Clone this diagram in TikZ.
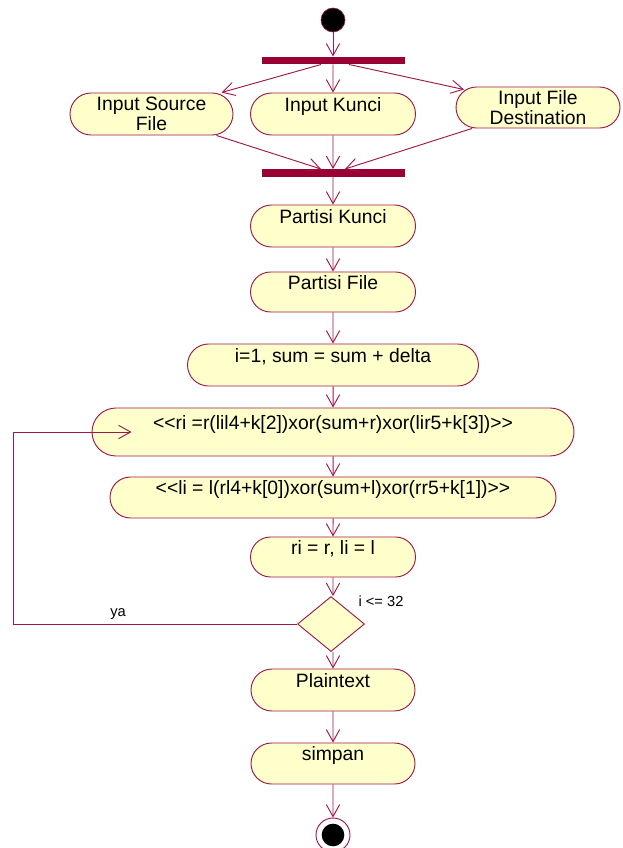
\documentclass[tikz,border=0pt]{standalone}
\usepackage{fontspec}
\setmainfont{Liberation Sans}
\usetikzlibrary{shapes.misc,shapes.geometric,arrows.meta,calc}
\definecolor{umlline}{HTML}{A0174A}
\definecolor{umlbar}{HTML}{990033}
\definecolor{umlfill}{HTML}{FFFFCC}
\begin{document}
\begin{tikzpicture}[x=0.75pt,y=-0.75pt,
  act/.style={rounded rectangle, draw=umlline, fill=umlfill, line width=0.7pt,
    inner sep=0pt, align=center, font=\fontsize{14.5}{15}\selectfont},
  syncbar/.style={rectangle, fill=umlbar, inner sep=0pt,
    minimum width=107.25pt, minimum height=5.6pt},
  flow/.style={draw=umlline, line width=0.7pt,
    -{Straight Barb[length=9pt,width=10pt,line width=0.7pt]}},
  small/.style={font=\fontsize{11}{13}\selectfont, inner sep=0pt},
]
\useasboundingbox (0,0) rectangle (622,848);

% initial state and fork
\node[circle, fill=black, draw=umlline, line width=0.5pt, minimum size=18pt, inner sep=0pt] (start) at (333,20) {};
\node[syncbar] (fork) at (333,60.5) {};

% parallel inputs
\node[act, minimum width=122.25pt, minimum height=31.5pt] (src) at (151.5,114) {Input Source\\File};
\node[act, minimum width=123.75pt, minimum height=31.5pt] (kunci) at (333,114) {Input Kunci\\~};
\node[act, minimum width=123pt, minimum height=30.75pt] (dest) at (538,107.5) {Input File\\Destination};

% join
\node[syncbar] (join) at (333,173) {};

% main sequence
\node[act, minimum width=123.75pt, minimum height=31.5pt] (pk) at (333,226) {Partisi Kunci\\~};
\node[act, minimum width=123.75pt, minimum height=30pt] (pf) at (333,292) {Partisi File\\~};
\node[act, minimum width=218.25pt, minimum height=31.5pt] (init) at (333,365) {i=1, sum = sum + delta\\~};
\node[act, minimum width=361.5pt, minimum height=36pt] (rstep) at (333,432) {<{}<ri =r(lil4+k[2])xor(sum+r)xor(lir5+k[3])>{}>\\~};
\node[act, minimum width=334.5pt, minimum height=30.75pt] (lstep) at (333,497.5) {<{}<li = l(rl4+k[0])xor(sum+l)xor(rr5+k[1])>{}>\\~};
\node[act, minimum width=123.75pt, minimum height=30pt] (swap) at (333,557) {ri = r, li = l\\~};
\node[diamond, draw=umlline, fill=umlfill, line width=0.7pt, inner sep=0pt,
      minimum width=50.25pt, minimum height=41.25pt] (test) at (331,624) {};
\node[act, minimum width=123pt, minimum height=31.5pt] (plain) at (333,690) {Plaintext\\~};
\node[act, minimum width=123pt, minimum height=30.75pt] (save) at (333,763.5) {simpan\\~};

% final state
\node[circle, draw=umlline, fill=white, line width=0.7pt, minimum size=25.5pt, inner sep=0pt] (endring) at (333,835) {};
\node[circle, fill=black, minimum size=17pt, inner sep=0pt] (enddot) at (333,835) {};

% guard labels
\node[small] (ya) at (118,614) {ya};
\node[small] (guard) at (381,601) {i <= 32};

% transitions
\draw[flow] (start) -- (fork);
\draw[flow] ($(fork.south)+(-12,0)$) -- ($(src.north)+(70,0)$);
\draw[flow] (fork) -- (kunci);
\draw[flow] ($(fork.south)+(16,0)$) -- ($(dest.north)+(-74,3)$);
\draw[flow] ($(src.south)+(65,0)$) -- ($(join.north)+(-12,0)$);
\draw[flow] (kunci) -- (join);
\draw[flow] ($(dest.south)+(-66,0)$) -- ($(join.north)+(12,0)$);
\draw[flow] (join) -- (pk);
\draw[flow] (pk) -- (pf);
\draw[flow] (pf) -- (init);
\draw[flow] (init) -- (rstep);
\draw[flow] (rstep) -- (lstep);
\draw[flow] (lstep) -- (swap);
\draw[flow] (swap) -- (swap.south |- test.north);
\draw[flow] (test.south -| plain.north) -- (plain);
\draw[flow] (plain) -- (save);
\draw[flow] (save) -- (endring);

% loop back while i <= 32
\draw[flow] (test.west) -- ++(-284,0) |- ($(rstep.west)+(40,0)$);
\end{tikzpicture}
\end{document}
